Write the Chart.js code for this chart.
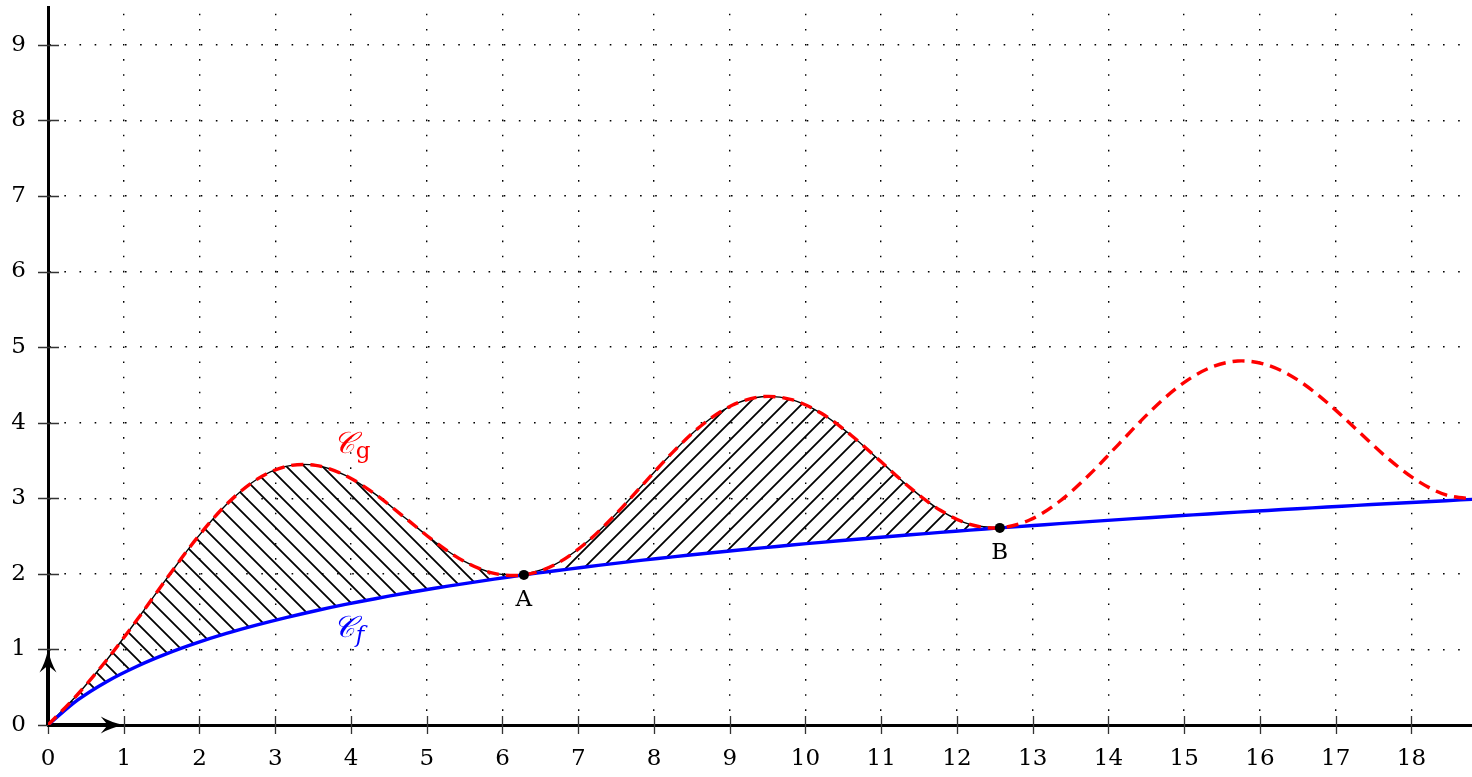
<!DOCTYPE html>
<html>
<head>
<meta charset="utf-8">
<script src="https://cdn.jsdelivr.net/npm/chart.js@4.4.1/dist/chart.umd.min.js"></script>
<style>
  html, body { margin: 0; padding: 0; background: #fff; }
  #wrap { width: 1472px; height: 777px; position: relative; }
</style>
</head>
<body>
<div id="wrap"><canvas id="graph"></canvas></div>
<script>
// sample abscissas (step pi/8)
const xs = [0, 0.393, 0.785, 1.178, 1.571, 1.963, 2.356, 2.749, 3.142, 3.534, 3.927, 4.320,
  4.712, 5.105, 5.498, 5.890, 6.283, 6.676, 7.069, 7.461, 7.854, 8.247, 8.639, 9.032,
  9.425, 9.817, 10.210, 10.603, 10.996, 11.388, 11.781, 12.174, 12.566, 12.959, 13.352, 13.744,
  14.137, 14.530, 14.923, 15.315, 15.708, 16.101, 16.493, 16.886, 17.279, 17.671, 18.064, 18.457, 18.850];

// curve C_f (blue)
const fVals = [0, 0.331, 0.580, 0.778, 0.944, 1.086, 1.211, 1.321, 1.421, 1.512, 1.595, 1.671,
  1.743, 1.809, 1.871, 1.930, 1.986, 2.038, 2.088, 2.136, 2.181, 2.224, 2.266, 2.306,
  2.344, 2.381, 2.417, 2.451, 2.485, 2.517, 2.548, 2.578, 2.608, 2.636, 2.664, 2.691,
  2.717, 2.743, 2.768, 2.792, 2.816, 2.839, 2.862, 2.884, 2.906, 2.927, 2.948, 2.968, 2.988];

// curve C_g (red, dashed)
const gVals = [0, 0.407, 0.873, 1.395, 1.944, 2.469, 2.918, 3.245, 3.421, 3.436, 3.302, 3.054,
  2.743, 2.426, 2.164, 2.006, 1.986, 2.114, 2.381, 2.753, 3.181, 3.607, 3.973, 4.230,
  4.344, 4.305, 4.124, 3.834, 3.485, 3.134, 2.841, 2.654, 2.608, 2.712, 2.957, 3.308,
  3.717, 4.126, 4.475, 4.716, 4.816, 4.763, 4.569, 4.267, 3.906, 3.544, 3.241, 3.044, 2.988];

const xTicks = [0, 1, 2, 3, 4, 5, 6, 7, 8, 9, 10, 11, 12, 13, 14, 15, 16, 17, 18];
const yTicks = [0, 1, 2, 3, 4, 5, 6, 7, 8, 9];

// intersection points
const pointNames = ['A', 'B'];
const pointX = [6.283, 12.566];
const pointY = [1.986, 2.608];

// hatched zones: index ranges in xs
const zoneStart = [0, 16];
const zoneEnd = [16, 32];

const pts = (xa, ya) => xa.map((x, i) => ({ x: x, y: ya[i] }));

function hatch(dir) {
  const s = 18;
  const c = document.createElement('canvas');
  c.width = s; c.height = s;
  const g = c.getContext('2d');
  g.strokeStyle = '#000';
  g.lineWidth = 1.8;
  g.beginPath();
  if (dir > 0) {
    g.moveTo(0, s); g.lineTo(s, 0);
    g.moveTo(-s / 4, s / 4); g.lineTo(s / 4, -s / 4);
    g.moveTo(3 * s / 4, 5 * s / 4); g.lineTo(5 * s / 4, 3 * s / 4);
  } else {
    g.moveTo(0, 0); g.lineTo(s, s);
    g.moveTo(-s / 4, 3 * s / 4); g.lineTo(s / 4, 5 * s / 4);
    g.moveTo(3 * s / 4, -s / 4); g.lineTo(5 * s / 4, s / 4);
  }
  g.stroke();
  return g.createPattern(c, 'repeat');
}

const TENSION = 0.33;
const datasets = [
  {
    data: pts(pointX, pointY), showLine: false, pointRadius: 5,
    pointBackgroundColor: '#000', pointBorderWidth: 0
  },
  {
    data: pts(xs, gVals), borderColor: '#ff0000', borderWidth: 3.4, borderDash: [12, 7],
    pointRadius: 0, tension: TENSION, fill: false
  },
  {
    data: pts(xs, fVals), borderColor: '#0000ff', borderWidth: 3.4,
    pointRadius: 0, tension: TENSION, fill: false
  }
];
zoneStart.forEach((a, k) => {
  const b = zoneEnd[k] + 1;
  const idx = datasets.length;
  datasets.push({
    data: pts(xs.slice(a, b), gVals.slice(a, b)), borderColor: '#000', borderWidth: 1.4,
    backgroundColor: hatch(k === 0 ? -1 : 1), fill: idx + 1, pointRadius: 0, tension: TENSION
  });
  datasets.push({
    data: pts(xs.slice(a, b), fVals.slice(a, b)), borderColor: 'rgba(0,0,0,0)', borderWidth: 1,
    pointRadius: 0, tension: TENSION, fill: false
  });
});

const SERIF = '"DejaVu Serif", "Liberation Serif", serif';

function arrow(ctx, x0, y0, x1, y1) {
  const L = 23, W = 8.5, N = 7;
  const len = Math.hypot(x1 - x0, y1 - y0);
  const ux = (x1 - x0) / len, uy = (y1 - y0) / len;
  const nx = -uy, ny = ux;
  ctx.beginPath();
  ctx.moveTo(x0, y0);
  ctx.lineTo(x1 - ux * (L - N), y1 - uy * (L - N));
  ctx.lineWidth = 4;
  ctx.stroke();
  ctx.beginPath();
  ctx.moveTo(x1, y1);
  ctx.quadraticCurveTo(x1 - ux * L * 0.55 + nx * W * 0.3, y1 - uy * L * 0.55 + ny * W * 0.3,
    x1 - ux * L + nx * W, y1 - uy * L + ny * W);
  ctx.lineTo(x1 - ux * (L - N), y1 - uy * (L - N));
  ctx.lineTo(x1 - ux * L - nx * W, y1 - uy * L - ny * W);
  ctx.quadraticCurveTo(x1 - ux * L * 0.55 - nx * W * 0.3, y1 - uy * L * 0.55 - ny * W * 0.3, x1, y1);
  ctx.closePath();
  ctx.fill();
}

const decor = {
  id: 'decor',
  beforeDatasetsDraw(chart) {
    const { ctx, scales: { x, y } } = chart;
    ctx.save();
    ctx.strokeStyle = '#333';
    ctx.lineWidth = 1.3;
    ctx.beginPath();
    xTicks.forEach(v => {
      const p = Math.round(x.getPixelForValue(v)) + 0.5;
      ctx.moveTo(p, y.bottom - 9); ctx.lineTo(p, y.bottom + 9);
    });
    yTicks.forEach(v => {
      const p = Math.round(y.getPixelForValue(v)) + 0.5;
      ctx.moveTo(x.left - 10, p); ctx.lineTo(x.left + 11, p);
    });
    ctx.stroke();
    ctx.strokeStyle = '#000';
    ctx.fillStyle = '#000';
    const ox = x.getPixelForValue(0), oy = y.getPixelForValue(0);
    arrow(ctx, ox, oy, x.getPixelForValue(1), oy);
    arrow(ctx, ox, oy, ox, y.getPixelForValue(1));
    ctx.restore();
  },
  afterDatasetsDraw(chart) {
    const { ctx, scales: { x, y } } = chart;
    ctx.save();
    ctx.fillStyle = '#000';
    ctx.font = '23px ' + SERIF;
    ctx.textAlign = 'center';
    ctx.textBaseline = 'middle';
    pointNames.forEach((n, i) => {
      ctx.fillText(n, x.getPixelForValue(pointX[i]), y.getPixelForValue(pointY[i]) + 25);
    });
    // curve names
    const names = [
      { sub: 'g', x: 3.76, y: 3.60, color: '#ff0000', subFont: '23px ' + SERIF },
      { sub: 'f', x: 3.76, y: 1.17, color: '#0000ff', subFont: 'italic 23px ' + SERIF }
    ];
    ctx.textAlign = 'left';
    ctx.textBaseline = 'alphabetic';
    names.forEach(nm => {
      const px = x.getPixelForValue(nm.x), py = y.getPixelForValue(nm.y);
      ctx.fillStyle = nm.color;
      ctx.font = 'italic 30px ' + SERIF;
      ctx.fillText('\u{1D49E}', px, py);
      const w = ctx.measureText('\u{1D49E}').width;
      ctx.font = nm.subFont;
      ctx.fillText(nm.sub, px + w + 1, py + 5);
    });
    ctx.restore();
  }
};

new Chart(document.getElementById('graph'), {
  type: 'line',
  data: { datasets: datasets },
  options: {
    responsive: true,
    maintainAspectRatio: false,
    animation: false,
    events: [],
    layout: { padding: { top: 7, right: 0, left: 0, bottom: 0 }, autoPadding: false },
    plugins: { legend: { display: false }, tooltip: { enabled: false } },
    scales: {
      x: {
        type: 'linear',
        min: 0,
        max: 18.8,
        afterBuildTicks: s => { s.ticks = xTicks.map(v => ({ value: v })); },
        afterFit: s => { s.height = 52; s.paddingLeft = 0; s.paddingRight = 0; },
        ticks: {
          autoSkip: false, maxRotation: 0, includeBounds: false, padding: 20,
          color: '#000', font: { family: SERIF, size: 23 }
        },
        grid: { color: '#000', lineWidth: 1.4, drawTicks: false },
        border: { display: true, color: '#000', width: 3, dash: [1.6, 13.52], dashOffset: 8.36 }
      },
      y: {
        min: 0,
        max: 9.5,
        afterBuildTicks: s => { s.ticks = yTicks.map(v => ({ value: v })); },
        afterFit: s => { s.width = 48; s.paddingTop = 0; s.paddingBottom = 0; },
        ticks: {
          includeBounds: false, padding: 22,
          color: '#000', font: { family: SERIF, size: 23 }
        },
        grid: { color: '#000', lineWidth: 1.4, drawTicks: false },
        border: { display: true, color: '#000', width: 3, dash: [1.6, 13.55], dashOffset: 0.8 }
      }
    }
  },
  plugins: [decor]
});
</script>
</body>
</html>
